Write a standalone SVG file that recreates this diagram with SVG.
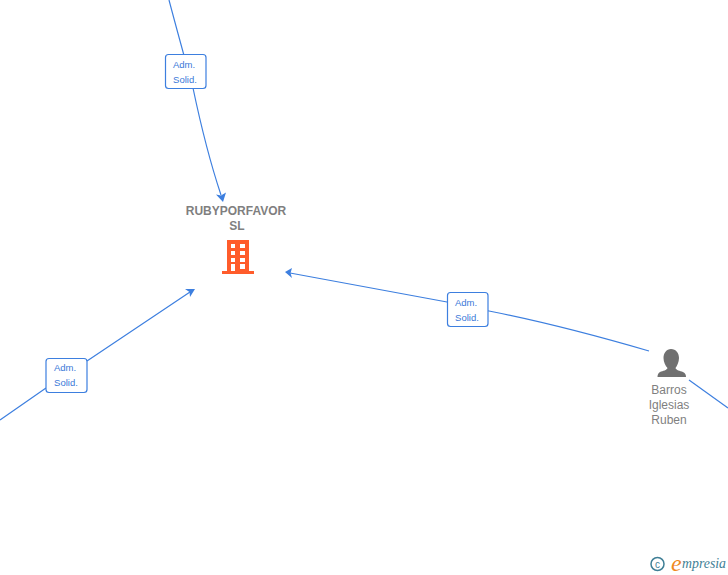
<svg xmlns="http://www.w3.org/2000/svg" width="728" height="575" viewBox="0 0 728 575">
<style>
text{font-family:"Liberation Sans",Arial,sans-serif}
.c{fill:none;stroke:#3d7fdf;stroke-width:1.2}
.b{fill:#fff;stroke:#3d7fdf;stroke-width:1.2}
.l{font-size:9.5px;fill:#3a78d8;text-anchor:middle}
.n{font-size:12px;fill:#7f7f7f;text-anchor:middle}
.a{fill:#3d7fdf}
</style>
<rect width="728" height="575" fill="#fff"/>
<g id="connectors">
<path class="c" d="M169 0Q178 34 193 88Q206 150 221 195"/>
<path class="a" d="M223 202L216 194.500L221 195.500L226 192.500Z"/>
<path class="c" d="M649 351Q560 325 489 311L447 302L290 273"/>
<path class="a" d="M285 272L292 268L290.500 273L292 278Z"/>
<path class="c" d="M0 420L46 388M87 361L190 292"/>
<path class="a" d="M195 289L190 297L189.500 292L185 289Z"/>
<path class="c" d="M689 380L728 408"/>
</g>
<g id="label-top"><rect class="b" x="165.500" y="54.500" width="40.500" height="34" rx="3"/><text class="l" x="184" y="68">Adm.</text><text class="l" x="185" y="83">Solid.</text></g>
<g id="label-right"><rect class="b" x="447.500" y="292.500" width="40.500" height="34" rx="3"/><text class="l" x="466" y="306">Adm.</text><text class="l" x="467" y="321">Solid.</text></g>
<g id="label-left"><rect class="b" x="46" y="358.500" width="41" height="34" rx="3"/><text class="l" x="65" y="371">Adm.</text><text class="l" x="66" y="386">Solid.</text></g>
<g id="node-company">
<text class="n" x="236" y="215" style="font-weight:bold">RUBYPORFAVOR</text>
<text class="n" x="237" y="230" style="font-weight:bold">SL</text>
<path fill-rule="evenodd" fill="#ff5c2b" d="M227 240H249V271H254V274H222V271H227ZM231 244V248H235V244ZM240 244V248H245V244ZM231 251V255H235V251ZM240 251V255H245V251ZM231 258V262H235V258ZM240 258V262H245V258ZM231 264V271H235V264ZM240 264V269H245V264Z"/>
</g>
<g id="node-person">
<path fill="#707070" d="M671 349C676 349 679 353 679 358C679 362 677 366 675.500 368C676 370 680 371 683 372C685.500 373 686 375 686 377H657.500C657.500 375 658 373 660 372C663 371 667 370 667.500 368C665.500 366 663.500 362 663.500 358C663.500 353 666.500 349 671 349Z"/>
<text class="n" x="669" y="394">Barros</text>
<text class="n" x="669" y="409">Iglesias</text>
<text class="n" x="669" y="424">Ruben</text>
</g>
<g id="logo">
<circle cx="657.500" cy="564" r="6.500" fill="none" stroke="#3f7f96" stroke-width="1.500"/>
<text x="657.500" y="567.500" font-size="10" fill="#3f7f96" text-anchor="middle">c</text>
<text x="671" y="571" font-size="24" fill="#f08a1d" style="font-family:'Liberation Serif',serif;font-style:italic">e</text>
<text x="682" y="568" font-size="14" textLength="44" lengthAdjust="spacingAndGlyphs" fill="#3f7f96" style="font-family:'Liberation Serif',serif;font-style:italic">mpresia</text>
</g>
</svg>
